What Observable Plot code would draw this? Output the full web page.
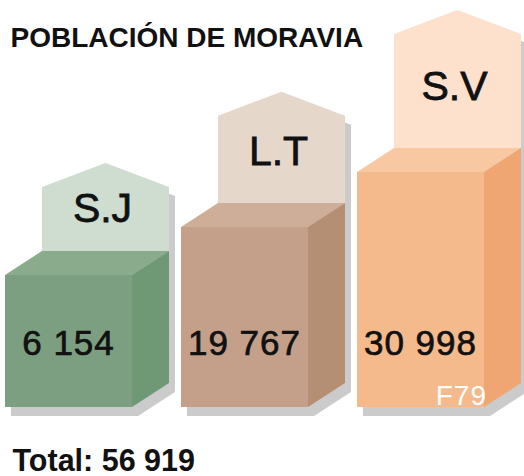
<!DOCTYPE html>
<html><head><meta charset="utf-8">
<script src="https://cdn.jsdelivr.net/npm/d3@7"></script>
<script src="https://cdn.jsdelivr.net/npm/@observablehq/plot@0.6"></script>
<style>body{margin:0;background:#fff}</style>
</head><body><div id="chart"></div>
<script>
const categories = ["S.J", "L.T", "S.V"];
const populations = [6154, 19767, 30998];
const title = "POBLACIÓN DE MORAVIA";
const sourceCode = "F79";

const palette = {
  front: ["#7b9f80", "#c4a08a", "#f5ba8c"],
  side: ["#6f9874", "#b58f74", "#f0a672"],
  top: ["#8aac8d", "#cfae99", "#f8c8a2"],
  house: ["#cfdcd0", "#e6d7cb", "#fde1cc"],
  shadow: "#cbcbcb"
};

const fmt = d3.formatLocale({thousands: " ", grouping: [3], decimal: ","}).format(",d");
const data = categories.map((c, i) => ({category: c, population: populations[i], i}));
const total = d3.sum(populations);
const FONT = "'Liberation Sans', Arial, Helvetica, sans-serif";

const DEPTH_X = 37, DEPTH_Y = 24, PEAK = 24, SH_X = 6, SH_Y = 9;

function boxes(index, scales) {
  const x = scales.x, y = scales.y;
  const bw = typeof x.bandwidth === "function" ? x.bandwidth() : x.bandwidth;
  const g = d3.create("svg:g");
  const y0 = y(0);
  const poly = (pts, fill) => g.append("polygon").attr("points", pts.map(p => p.join(",")).join(" ")).attr("fill", fill);
  for (const i of index) {
    const d = data[i];
    const x1 = x(d.category), x2 = x1 + bw;
    const yt = y(d.population);
    const h = y0 - yt;
    const hb = yt - DEPTH_Y;
    const hh = 0.485 * h;
    const ht = hb - hh;
    const cx = (x1 + x2) / 2 + DEPTH_X;
    const sil = [[x1, y0], [x1, yt], [x1 + DEPTH_X, hb], [x1 + DEPTH_X, ht], [cx, ht - PEAK], [x2 + DEPTH_X, ht], [x2 + DEPTH_X, y0 - DEPTH_Y], [x2, y0]];
    poly(sil.map(([a, b]) => [a + SH_X, b + SH_Y]), palette.shadow);
    poly([[x1 + DEPTH_X, hb], [x1 + DEPTH_X, ht], [cx, ht - PEAK], [x2 + DEPTH_X, ht], [x2 + DEPTH_X, hb]], palette.house[i]);
    poly([[x1, yt], [x2, yt], [x2 + DEPTH_X, hb], [x1 + DEPTH_X, hb]], palette.top[i]);
    poly([[x2, yt], [x2 + DEPTH_X, hb], [x2 + DEPTH_X, y0 - DEPTH_Y], [x2, y0]], palette.side[i]);
    poly([[x1, yt], [x2, yt], [x2, y0], [x1, y0]], palette.front[i]);
    const labelCenter = hb - 18 - 0.38 * hh;
    g.append("text").attr("x", cx - 3).attr("y", labelCenter + 13)
      .attr("text-anchor", "middle").attr("font-family", FONT).attr("font-size", 41)
      .attr("fill", "#111").attr("stroke", "#111").attr("stroke-width", 0.8).text(d.category);
    g.append("text").attr("x", (x1 + x2) / 2).attr("y", y0 - 52)
      .attr("text-anchor", "middle").attr("font-family", FONT).attr("font-size", 35)
      .attr("letter-spacing", 1)
      .attr("fill", "#111").attr("stroke", "#111").attr("stroke-width", 0.7).text(fmt(d.population));
    if (i === data.length - 1) {
      g.append("text").attr("x", x2 + 3).attr("y", y0 - 2)
        .attr("text-anchor", "end").attr("font-family", FONT).attr("font-size", 28)
        .attr("letter-spacing", 1).attr("fill", "#fff").text(sourceCode);
    }
  }
  return g.node();
}

const chart = Plot.plot({
  width: 524, height: 476, margin: 0,
  style: {background: "#fff", fontFamily: FONT},
  x: {type: "band", domain: categories, range: [4, 484], paddingInner: 0.28, paddingOuter: 0, axis: null},
  y: {type: "linear", domain: [0, ...populations], range: [407, 275, 227, 172], axis: null},
  marks: [
    Plot.barY(data, {x: "category", y: "population", render: boxes}),
    Plot.text([title], {frameAnchor: "top-left", dx: 10, dy: 27, lineAnchor: "top", textAnchor: "start",
      fontSize: 28, fontWeight: 700, fill: "#111", text: d => d}),
    Plot.text([`Total: ${fmt(total)}`], {frameAnchor: "top-left", dx: 12, dy: 449, lineAnchor: "top", textAnchor: "start",
      fontSize: 30.5, fontWeight: 700, fill: "#111", text: d => d})
  ]
});
document.getElementById("chart").appendChild(chart);
</script>
</body></html>
